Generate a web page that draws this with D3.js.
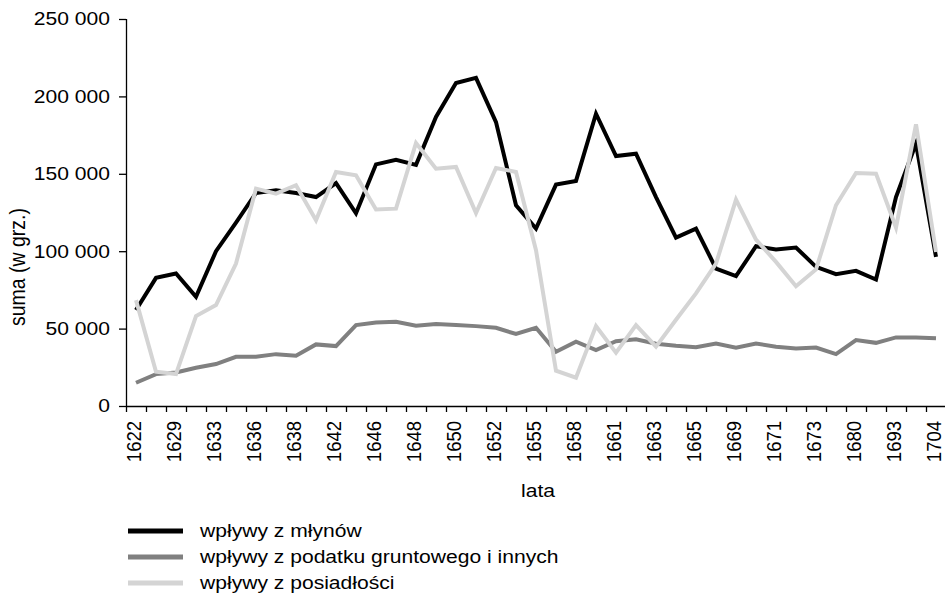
<!DOCTYPE html>
<html>
<head>
<meta charset="utf-8">
<script src="https://cdn.jsdelivr.net/npm/d3@7/dist/d3.min.js"></script>
<style>
  html, body { margin: 0; padding: 0; background: #fff; }
  svg { display: block; }
  text { font-family: "Liberation Sans", Arial, sans-serif; fill: #000; }
</style>
</head>
<body>
<svg id="chart" width="945" height="594"></svg>
<script>
// ---- data ----
const years = [1622, 1627, 1629, 1631, 1633, 1635, 1636, 1637, 1638, 1640,
               1642, 1644, 1646, 1647, 1648, 1649, 1650, 1651, 1652, 1654,
               1655, 1657, 1658, 1660, 1661, 1662, 1663, 1664, 1665, 1667,
               1669, 1670, 1671, 1672, 1673, 1677, 1680, 1688, 1693, 1699, 1704];
const tickLabels = [1622, 1629, 1633, 1636, 1638, 1642, 1646, 1648, 1650, 1652, 1655,
                    1658, 1661, 1663, 1665, 1669, 1671, 1673, 1680, 1693, 1704];
const mlyny = [62000, 82800, 85600, 70500, 100000, 118500, 137600, 139400, 137600, 135000,
               144000, 124500, 156100, 159100, 155800, 186700, 208600, 212000, 183400, 129700,
               114600, 143000, 145400, 188800, 161500, 163000, 135000, 108800, 114600, 88800,
               83900, 103200, 101100, 102400, 89900, 85200, 87300, 81700, 135000, 169500, 96300];
const podatek = [15000, 20600, 21700, 24700, 27100, 31800, 31800, 33500, 32500, 39800,
                 38700, 52300, 54000, 54400, 51800, 52900, 52300, 51600, 50500, 46500,
                 50500, 35000, 41500, 36100, 41800, 43100, 40200, 38900, 38000, 40400,
                 37600, 40400, 38300, 37200, 37800, 33500, 42600, 40800, 44300, 44300, 43700];
const posiadlosci = [68400, 22100, 20600, 58100, 65200, 92000, 140400, 137200, 142600, 120000,
                     151200, 149000, 126900, 127500, 169900, 153300, 154400, 124700, 153800, 151200,
                     100600, 22800, 18300, 51600, 34400, 52300, 38300, 55700, 72700, 92000,
                     133300, 107500, 93100, 77400, 88200, 129700, 150500, 150100, 115300, 181900, 99500];
const seriesNames = ["wpływy z młynów", "wpływy z podatku gruntowego i innych", "wpływy z posiadłości"];
const seriesColors = ["#000000", "#808080", "#d4d4d4"];
const yTicks = [0, 50000, 100000, 150000, 200000, 250000];
const yTitle = "suma (w grz.)";
const xTitle = "lata";

// ---- layout ----
const svg = d3.select("#chart");
const pL = 126, pR = 946, pT = 19, pB = 406;
const FS = 18.5;
const SX = 1.14; // horizontal text stretch seen in the reference
const FF = '"Liberation Sans", Arial, sans-serif';

const x = d3.scaleBand().domain(years).range([pL, pR]).padding(0);
const xIdx = d3.scaleLinear().domain([0, years.length]).range([pL, pR]);
const y = d3.scaleLinear().domain([0, 250000]).range([pB, pT]);

const locale = d3.formatLocale({decimal: ",", thousands: " ", grouping: [3], currency: ["", ""]});
const fmt = locale.format(",");

// y axis
const yAxis = svg.append("g").attr("transform", `translate(${pL},0)`)
  .call(d3.axisLeft(y).tickValues(yTicks).tickFormat(fmt).tickSize(7));
yAxis.select(".domain").attr("stroke", "#000").attr("stroke-width", 1.3).attr("d", `M0.5,${pT}V${pB}`);
yAxis.selectAll(".tick line").attr("stroke", "#000").attr("stroke-width", 1.3);
yAxis.selectAll(".tick text").attr("font-size", FS).attr("font-family", FF).attr("fill", "#000")
  .attr("x", 0).attr("transform", `translate(-16,0) scale(${SX},1)`);

// x axis: boundary ticks
const xTickAxis = svg.append("g").attr("transform", `translate(0,${pB})`)
  .call(d3.axisBottom(xIdx).tickValues(d3.range(years.length + 1)).tickFormat("").tickSize(6));
xTickAxis.select(".domain").attr("stroke", "#000").attr("stroke-width", 1.3).attr("d", `M${pL},0.5H${pR}`);
xTickAxis.selectAll(".tick line").attr("stroke", "#000").attr("stroke-width", 1.3);

// x axis labels (every other category)
const xLab = svg.append("g").attr("transform", `translate(0,${pB})`)
  .call(d3.axisBottom(x).tickValues(tickLabels).tickSize(0).tickPadding(0));
xLab.select(".domain").remove();
xLab.selectAll(".tick text")
  .attr("font-size", FS).attr("font-family", FF).attr("fill", "#000")
  .attr("transform", `translate(-1,15) scale(1.1,1) rotate(-90)`)
  .attr("text-anchor", "end").attr("dy", "0.3em").attr("x", 0).attr("y", 0);

// titles
svg.append("text").attr("transform", `translate(25,267) scale(${SX},1) rotate(-90)`)
  .attr("text-anchor", "middle").attr("font-size", 19.5).text(yTitle);
svg.append("text").attr("transform", `translate(538,497) scale(${SX},1)`)
  .attr("text-anchor", "middle").attr("font-size", FS).text(xTitle);

// lines
const series = [mlyny, podatek, posiadlosci];
const line = d3.line().x((d, i) => x(years[i]) + x.bandwidth() / 2).y(d => y(d));
series.forEach((s, k) => {
  svg.append("path").datum(s)
    .attr("fill", "none").attr("stroke", seriesColors[k]).attr("stroke-width", 4)
    .attr("stroke-linejoin", "miter").attr("d", line);
});

// legend
const leg = svg.append("g");
seriesNames.forEach((n, k) => {
  const ly = 531 + k * 26;
  leg.append("line").attr("x1", 128).attr("x2", 183).attr("y1", ly).attr("y2", ly)
    .attr("stroke", seriesColors[k]).attr("stroke-width", 5);
  leg.append("text").attr("transform", `translate(200,${ly}) scale(${SX},1)`).attr("dy", "0.35em")
    .attr("font-size", FS).text(n);
});
</script>
</body>
</html>
